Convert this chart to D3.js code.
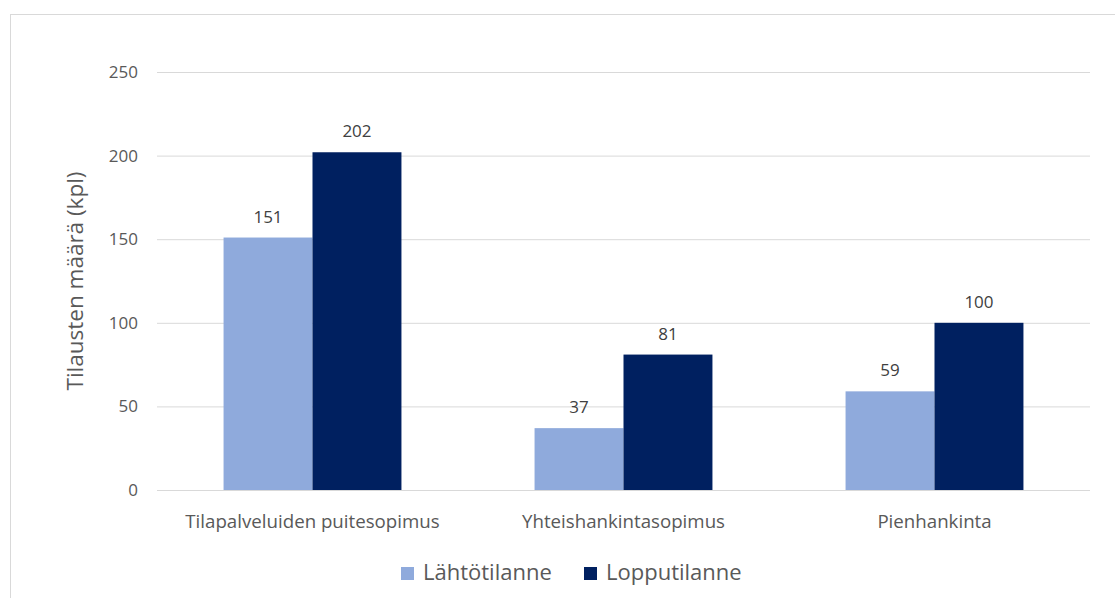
<!DOCTYPE html>
<html>
<head>
<meta charset="utf-8">
<script src="https://cdn.jsdelivr.net/npm/d3@7"></script>
<style>
  html, body { margin: 0; padding: 0; background: #fff; }
  svg { display: block; }
  svg text { font-family: "Open Sans", "Liberation Sans", sans-serif; }
</style>
</head>
<body>
<svg id="chart" width="1115" height="598"></svg>
<script>
// Tilausten määrä hankintatavoittain
const categories = ["Tilapalveluiden puitesopimus", "Yhteishankintasopimus", "Pienhankinta"];
const seriesNames = ["Lähtötilanne", "Lopputilanne"];
const lahtotilanne = [151, 37, 59];
const lopputilanne = [202, 81, 100];
const yTicks = [0, 50, 100, 150, 200, 250];
const colors = ["#8FAADC", "#002060"];

const svg = d3.select("#chart");
const textColor = "#595959";
const fontFamily = '"Open Sans", "Liberation Sans", sans-serif';

// chart frame
svg.append("rect")
  .attr("x", 10.5).attr("y", 14.5)
  .attr("width", 1120).attr("height", 600)
  .attr("fill", "#fff").attr("stroke", "#D9D9D9").attr("stroke-width", 1);

const plot = { left: 157, right: 1090, top: 72, bottom: 490 };

const x0 = d3.scaleBand()
  .domain(categories)
  .range([plot.left, plot.right])
  .paddingInner(0.428)
  .paddingOuter(0.214);

const x1 = d3.scaleBand()
  .domain(seriesNames)
  .range([0, x0.bandwidth()]);

const y = d3.scaleLinear()
  .domain([0, 250])
  .range([plot.bottom, plot.top]);

// gridlines + tick labels
const yAxis = d3.axisLeft(y)
  .tickValues(yTicks)
  .tickSize(-(plot.right - plot.left))
  .tickPadding(19);

const gy = svg.append("g")
  .attr("transform", `translate(${plot.left},0)`)
  .call(yAxis)
  .attr("font-family", fontFamily);
gy.select(".domain").remove();
gy.selectAll(".tick line").attr("stroke", "#D9D9D9").attr("stroke-width", 1);
gy.selectAll(".tick text")
  .attr("fill", textColor)
  .style("font-size", "17px");

// bars
const data = categories.map((c, i) => ({
  category: c,
  values: [
    { series: seriesNames[0], value: lahtotilanne[i] },
    { series: seriesNames[1], value: lopputilanne[i] }
  ]
}));

const groups = svg.append("g").selectAll("g")
  .data(data)
  .join("g")
  .attr("transform", d => `translate(${x0(d.category)},0)`);

groups.selectAll("rect")
  .data(d => d.values)
  .join("rect")
  .attr("x", d => x1(d.series))
  .attr("y", d => y(d.value))
  .attr("width", x1.bandwidth())
  .attr("height", d => y(0) - y(d.value))
  .attr("fill", (d, i) => colors[i]);

groups.selectAll("text.value")
  .data(d => d.values)
  .join("text")
  .attr("class", "value")
  .attr("x", d => x1(d.series) + x1.bandwidth() / 2)
  .attr("y", d => y(d.value) - 15)
  .attr("text-anchor", "middle")
  .attr("fill", "#404040")
  .style("font-size", "17px")
  .text(d => d.value);

// category labels
const xAxis = d3.axisBottom(x0).tickSize(0).tickPadding(0);
const gx = svg.append("g")
  .attr("transform", `translate(0,${plot.bottom})`)
  .call(xAxis)
  .attr("font-family", fontFamily);
gx.select(".domain").remove();
gx.selectAll(".tick text")
  .attr("y", 38)
  .attr("dy", null)
  .attr("fill", textColor)
  .style("font-size", "18.7px");

// y-axis title
svg.append("text")
  .attr("transform", `translate(83,281) rotate(-90)`)
  .attr("text-anchor", "middle")
  .attr("fill", textColor)
  .style("font-size", "22.5px")
  .text("Tilausten määrä (kpl)");

// legend
const legend = svg.append("g").attr("transform", "translate(0,580)");
const legendX = [401, 584];
seriesNames.forEach((name, i) => {
  const g = legend.append("g").attr("transform", `translate(${legendX[i]},0)`);
  g.append("rect")
    .attr("x", 0).attr("y", -13)
    .attr("width", 13).attr("height", 13)
    .attr("fill", colors[i]);
  g.append("text")
    .attr("x", 22).attr("y", 0)
    .attr("fill", textColor)
    .style("font-size", "22px")
    .text(name);
});
</script>
</body>
</html>
